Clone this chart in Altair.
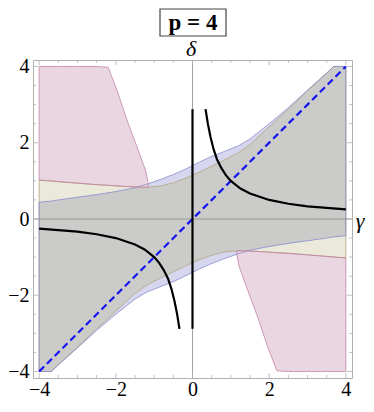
import altair as alt
import pandas as pd

# ---------------- data ----------------
XS = [-4, -3.68, -3.5, -3, -2.5, -2, -1.5, -1.2, -0.8, -0.47, -0.2, 0, 0.2, 0.47, 0.8, 1.2, 1.5, 2, 2.5, 3, 3.5, 3.68, 4]
YEL_TOP = [1.02, 1.00, 0.98, 0.94, 0.90, 0.87, 0.84, 0.83, 0.87, 0.96, 1.06, 1.15, 1.24, 1.37, 1.53, 1.74, 1.95, 2.42, 2.88, 3.36, 3.82, 4.00, 4.00]
YEL_BOT = [-4.00, -4.00, -3.82, -3.36, -2.88, -2.42, -1.95, -1.74, -1.53, -1.37, -1.24, -1.15, -1.06, -0.96, -0.87, -0.83, -0.84, -0.87, -0.90, -0.94, -0.98, -1.00, -1.02]
BLU_TOP = [0.44, 0.47, 0.50, 0.57, 0.64, 0.72, 0.82, 0.91, 1.05, 1.18, 1.30, 1.40, 1.50, 1.63, 1.76, 1.92, 2.10, 2.50, 2.92, 3.38, 3.83, 4.00, 4.00]
BLU_BOT = [-4.00, -4.00, -3.83, -3.38, -2.92, -2.50, -2.10, -1.92, -1.76, -1.63, -1.50, -1.40, -1.30, -1.18, -1.05, -0.91, -0.82, -0.72, -0.64, -0.57, -0.50, -0.47, -0.44]

PINK1_X = [-4, -3.5, -3, -2.5, -2.2, -1.96, -1.7, -1.44, -1.3, -1.22, -1.16]
PINK1_TOP = [4, 4, 4, 4, 3.98, 3.35, 2.57, 1.87, 1.48, 1.26, 0.96]
PINK1_BOT = [1.02, 0.98, 0.94, 0.90, 0.885, 0.865, 0.85, 0.84, 0.835, 0.83, 0.84]
PINK2_X = [1.16, 1.22, 1.3, 1.44, 1.7, 1.96, 2.2, 2.5, 3, 3.5, 4]
PINK2_TOP = [-0.84, -0.83, -0.835, -0.84, -0.85, -0.865, -0.885, -0.90, -0.94, -0.98, -1.02]
PINK2_BOT = [-0.96, -1.26, -1.48, -1.87, -2.57, -3.35, -3.98, -4, -4, -4, -4]

HYP1_X = [0.34, 0.4, 0.47, 0.55, 0.64, 0.75, 0.87, 1.0, 1.25, 1.5, 2.0, 2.5, 3.0, 3.5, 4.0]
HYP1_Y = [2.88, 2.5, 2.15, 1.83, 1.56, 1.34, 1.15, 1.0, 0.8, 0.67, 0.5, 0.4, 0.33, 0.29, 0.25]
HYP2_X = [-0.34, -0.4, -0.47, -0.55, -0.64, -0.75, -0.87, -1.0, -1.25, -1.5, -2.0, -2.5, -3.0, -3.5, -4.0]
HYP2_Y = [-2.88, -2.5, -2.15, -1.83, -1.56, -1.34, -1.15, -1.0, -0.8, -0.67, -0.5, -0.4, -0.33, -0.29, -0.25]

VLINE_X = [0, 0]
VLINE_Y = [-2.88, 2.88]
DIAG_X = [-4, 4]
DIAG_Y = [-4, 4]

MAJOR_TICKS = [-4, -2, 0, 2, 4]
MINOR_TICKS = [-3.5, -3, -2.5, -1.5, -1, -0.5, 0.5, 1, 1.5, 2.5, 3, 3.5]

TITLE = "p = 4"
X_LABEL = "γ"
Y_LABEL = "δ"

# ---------------- styling ----------------
W, H = 319, 318
FONT = "Liberation Serif"
C_YEL, C_YEL_EDGE = "#ebe9da", "#b3a57c"
C_BLU, C_BLU_EDGE = "#d6d6ee", "#8c8cd0"
C_GRAY = "#cbcbc9"
C_PINK, C_PINK_EDGE = "#e9d6e1", "#c383a8"
FRAME = "#b0b0b0"

xscale = alt.Scale(domain=[-4.16, 4.16], nice=False, zero=False)
yscale = alt.Scale(domain=[-4.17, 4.17], nice=False, zero=False)
xaxis = alt.Axis(values=MAJOR_TICKS, tickSize=0, domain=False, grid=False, title=None,
                 labelFont=FONT, labelFontSize=20, labelColor="black", labelPadding=1)
yaxis = alt.Axis(values=MAJOR_TICKS, tickSize=0, domain=False, grid=False, title=None,
                 labelFont=FONT, labelFontSize=20, labelColor="black", labelPadding=4)


def X(f="x"):
    return alt.X(f"{f}:Q", scale=xscale, axis=xaxis)


def Y(f):
    return alt.Y(f"{f}:Q", scale=yscale, axis=yaxis)


band = pd.DataFrame({"x": XS, "yt": YEL_TOP, "yb": YEL_BOT, "bt": BLU_TOP, "bb": BLU_BOT})
band["gt"] = [min(a, b) for a, b in zip(YEL_TOP, BLU_TOP)]
band["gb"] = [max(a, b) for a, b in zip(YEL_BOT, BLU_BOT)]

pink = pd.concat([
    pd.DataFrame({"x": PINK1_X, "t": PINK1_TOP, "b": PINK1_BOT, "part": "a"}),
    pd.DataFrame({"x": PINK2_X, "t": PINK2_TOP, "b": PINK2_BOT, "part": "b"}),
])

hyp = pd.concat([
    pd.DataFrame({"x": HYP1_X, "y": HYP1_Y, "part": "a", "o": range(len(HYP1_X))}),
    pd.DataFrame({"x": HYP2_X, "y": HYP2_Y, "part": "b", "o": range(len(HYP2_X))}),
])
vline = pd.DataFrame({"x": VLINE_X, "y": VLINE_Y})
diag = pd.DataFrame({"x": DIAG_X, "y": DIAG_Y})

layers = []
bc = alt.Chart(band)
layers.append(bc.mark_area(color=C_YEL).encode(x=X(), y=Y("yt"), y2="yb"))
layers.append(bc.mark_area(color=C_BLU).encode(x=X(), y=Y("bt"), y2="bb"))
layers.append(bc.mark_area(color=C_GRAY).encode(x=X(), y=Y("gt"), y2="gb"))
pc = alt.Chart(pink)
layers.append(pc.mark_area(color=C_PINK).encode(x=X(), y=Y("t"), y2="b", detail="part:N"))
layers.append(bc.mark_area(fillOpacity=0, stroke=C_YEL_EDGE, strokeWidth=0.8).encode(x=X(), y=Y("yt"), y2="yb"))
layers.append(bc.mark_area(fillOpacity=0, stroke=C_BLU_EDGE, strokeWidth=0.8).encode(x=X(), y=Y("bt"), y2="bb"))
layers.append(pc.mark_area(fillOpacity=0, stroke=C_PINK_EDGE, strokeWidth=0.8).encode(x=X(), y=Y("t"), y2="b", detail="part:N"))

one = alt.Chart(pd.DataFrame({"v": [0]}))
# Mathematica-style axes through the origin
layers.append(one.mark_rule(color="#8a8a8a", strokeWidth=0.8).encode(x=X("v"), y=alt.value(0), y2=alt.value(H)))
layers.append(one.mark_rule(color="#8a8a8a", strokeWidth=0.8).encode(y=Y("v"), x=alt.value(0), x2=alt.value(W)))

# inward frame ticks
for ticks, ln in ((MAJOR_TICKS, 5), (MINOR_TICKS, 3)):
    tc = alt.Chart(pd.DataFrame({"v": ticks}))
    layers.append(tc.mark_rule(color=FRAME, strokeWidth=0.8).encode(x=X("v"), y=alt.value(H), y2=alt.value(H - ln)))
    layers.append(tc.mark_rule(color=FRAME, strokeWidth=0.8).encode(x=X("v"), y=alt.value(0), y2=alt.value(ln)))
    layers.append(tc.mark_rule(color=FRAME, strokeWidth=0.8).encode(y=Y("v"), x=alt.value(0), x2=alt.value(ln)))
    layers.append(tc.mark_rule(color=FRAME, strokeWidth=0.8).encode(y=Y("v"), x=alt.value(W), x2=alt.value(W - ln)))

layers.append(alt.Chart(diag).mark_line(color="#1414f0", strokeWidth=2.2, strokeDash=[7, 4]).encode(x=X(), y=Y("y")))
layers.append(alt.Chart(hyp).mark_line(color="black", strokeWidth=2.2).encode(x=X(), y=Y("y"), detail="part:N", order="o:Q"))
layers.append(alt.Chart(vline).mark_line(color="black", strokeWidth=2.2).encode(x=X(), y=Y("y")))

# boxed title and axis labels
layers.append(one.mark_rect(fillOpacity=0, stroke="#444444", strokeWidth=1.2).encode(
    x=alt.value(127), x2=alt.value(193), y=alt.value(-51), y2=alt.value(-24)))
layers.append(alt.Chart(pd.DataFrame({"t": [TITLE]})).mark_text(
    font=FONT, fontSize=23, fontWeight="bold", color="black", baseline="middle", align="center").encode(
    x=alt.value(160), y=alt.value(-37), text="t:N"))
layers.append(alt.Chart(pd.DataFrame({"t": [Y_LABEL]})).mark_text(
    font=FONT, fontSize=22, fontStyle="italic", color="black", baseline="middle", align="center").encode(
    x=alt.value(158), y=alt.value(-11), text="t:N"))
layers.append(alt.Chart(pd.DataFrame({"t": [X_LABEL]})).mark_text(
    font=FONT, fontSize=22, fontStyle="italic", color="black", baseline="middle", align="center").encode(
    x=alt.value(327), y=alt.value(161), text="t:N"))

chart = alt.layer(*layers).properties(
    width=W, height=H,
    autosize=alt.AutoSizeParams(type="none"),
    padding={"left": 25, "top": 52, "right": 14, "bottom": 20},
    background="white",
).configure_view(stroke=FRAME, strokeWidth=1)

chart.save("out.html", embed_options={"renderer": "svg", "actions": False})
